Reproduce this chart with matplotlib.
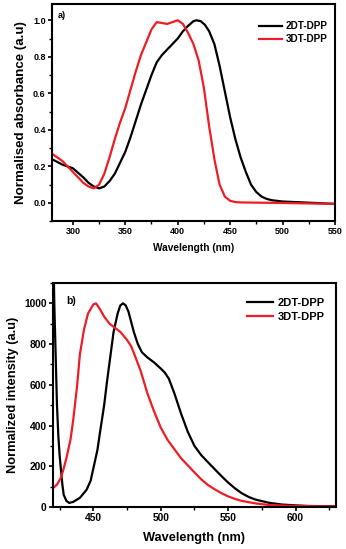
import matplotlib
matplotlib.use('Agg')
import matplotlib.pyplot as plt
from matplotlib.ticker import MultipleLocator

plt.rcParams['font.family'] = ['Liberation Sans', 'DejaVu Sans']
plt.rcParams['font.weight'] = 'bold'

# a) absorbance
abs_nm_2dt = [280, 285, 290, 295, 300, 305, 310, 315, 320, 325, 330, 335, 340, 345,
              350, 355, 360, 365, 370, 375, 380, 385, 390, 395, 400, 405, 410, 415,
              418, 422, 426, 430, 435, 440, 445, 450, 455, 460, 465, 470, 475, 480,
              485, 490, 500, 520, 550]
abs_2dt = [0.24, 0.225, 0.21, 0.20, 0.19, 0.165, 0.14, 0.11, 0.09, 0.08, 0.09, 0.12,
           0.16, 0.22, 0.28, 0.36, 0.45, 0.54, 0.62, 0.70, 0.77, 0.81, 0.84, 0.87,
           0.90, 0.94, 0.97, 0.995, 1.0, 0.995, 0.975, 0.94, 0.87, 0.75, 0.61, 0.47,
           0.35, 0.25, 0.17, 0.10, 0.06, 0.035, 0.022, 0.015, 0.008, 0.003, -0.005]
abs_nm_3dt = [280, 285, 290, 295, 300, 305, 310, 315, 320, 325, 330, 335, 340, 345,
              350, 355, 360, 365, 370, 375, 380, 385, 390, 395, 400, 405, 410, 415,
              420, 425, 430, 435, 440, 445, 450, 455, 460, 500, 550]
abs_3dt = [0.27, 0.25, 0.23, 0.20, 0.17, 0.14, 0.11, 0.09, 0.08, 0.10, 0.16, 0.25,
           0.35, 0.44, 0.52, 0.62, 0.72, 0.81, 0.88, 0.95, 0.99, 0.985, 0.98, 0.99,
           1.0, 0.98, 0.93, 0.87, 0.78, 0.63, 0.42, 0.24, 0.10, 0.035, 0.012, 0.005,
           0.003, 0.0, -0.005]

# b) emission
em_nm_2dt = [420, 421, 422, 423, 424, 425, 426, 427, 428, 430, 432, 435, 440, 445,
             448, 450, 453, 455, 458, 460, 463, 465, 468, 470, 472, 474, 476, 478,
             480, 483, 486, 490, 495, 500, 503, 506, 510, 515, 520, 525, 530, 535,
             540, 545, 550, 555, 560, 565, 570, 580, 590, 600, 610, 630]
em_2dt = [1400, 1000, 750, 500, 350, 250, 180, 110, 60, 30, 20, 25, 45, 85, 130, 190,
          280, 370, 500, 610, 760, 860, 950, 990, 1000, 990, 960, 910, 860, 800, 760,
          735, 710, 680, 660, 630, 560, 460, 370, 300, 255, 220, 186, 152, 120, 92,
          68, 50, 37, 21, 12, 8, 5, 3]
em_nm_3dt = [420, 423, 426, 428, 430, 433, 435, 438, 440, 443, 446, 450, 452, 455,
             458, 462, 466, 470, 475, 478, 481, 485, 490, 495, 500, 505, 510, 515,
             520, 525, 530, 535, 540, 545, 550, 555, 560, 570, 580, 600, 630]
em_3dt = [92, 110, 145, 190, 240, 330, 424, 600, 750, 870, 950, 995, 1000, 970, 935,
          900, 880, 860, 820, 790, 740, 670, 560, 470, 390, 330, 285, 240, 205, 170,
          136, 108, 87, 68, 52, 40, 30, 18, 10, 5, 2]

labels = ['2DT-DPP', '3DT-DPP']
colors = ['black', '#ee1c25']

fig = plt.figure(figsize=(3.46, 5.49), dpi=100)
ax1 = fig.add_axes([0.150, 0.597, 0.818, 0.396])
ax2 = fig.add_axes([0.153, 0.0765, 0.818, 0.408])

ax1.plot(abs_nm_2dt, abs_2dt, color=colors[0], lw=1.6, label=labels[0])
ax1.plot(abs_nm_3dt, abs_3dt, color=colors[1], lw=1.6, label=labels[1])
ax1.set_xlim(280, 550)
ax1.set_ylim(-0.1, 1.09)
ax1.xaxis.set_major_locator(MultipleLocator(50))
ax1.xaxis.set_minor_locator(MultipleLocator(25))
ax1.set_yticks([0.0, 0.2, 0.4, 0.6, 0.8, 1.0])
ax1.yaxis.set_minor_locator(MultipleLocator(0.1))
ax1.set_xlabel('Wavelength (nm)', fontsize=7.3, fontweight='bold', labelpad=5)
ax1.set_ylabel('Normalised absorbance (a.u)', fontsize=9.6, fontweight='bold',
               labelpad=4)
ax1.legend(loc='upper left', fontsize=7.2, frameon=False, handlelength=2.3,
           handletextpad=0.4, labelspacing=0.3, borderpad=0, borderaxespad=0,
           bbox_to_anchor=(259 / 346, 1 - 21 / 549),
           bbox_transform=fig.transFigure)

ax2.plot(em_nm_2dt, em_2dt, color=colors[0], lw=1.6, label=labels[0])
ax2.plot(em_nm_3dt, em_3dt, color=colors[1], lw=1.6, label=labels[1])
ax2.set_xlim(420, 630)
ax2.set_ylim(0, 1100)
ax2.xaxis.set_major_locator(MultipleLocator(50))
ax2.xaxis.set_minor_locator(MultipleLocator(25))
ax2.set_yticks([0, 200, 400, 600, 800, 1000])
ax2.yaxis.set_minor_locator(MultipleLocator(100))
ax2.set_xlabel('Wavelength (nm)', fontsize=9.2, fontweight='bold', labelpad=6)
ax2.set_ylabel('Normalized intensity (a.u)', fontsize=9.3, fontweight='bold',
               labelpad=4)
ax2.legend(loc='upper left', fontsize=8, frameon=False, handlelength=2.3,
           handletextpad=0.5, labelspacing=0.35, borderpad=0, borderaxespad=0,
           bbox_to_anchor=(247 / 346, 1 - 298 / 549),
           bbox_transform=fig.transFigure)

for ax in (ax1, ax2):
    for s in ax.spines.values():
        s.set_linewidth(1.5)
    ax.tick_params(which='major', direction='out', length=3, width=1.2,
                   labelsize=6.5, pad=1.5, top=False, right=False)
    ax.tick_params(which='minor', direction='out', length=2, width=1.0,
                   top=False, right=False)

ax2.tick_params(labelsize=7.4)
for ax in (ax1, ax2):
    for lab in ax.get_xticklabels() + ax.get_yticklabels():
        lab.set_fontweight('bold')

fig.text(58 / 346, 1 - 15 / 549, 'a)', fontsize=6.5, fontweight='bold',
         va='center', ha='left')
fig.text(66 / 346, 1 - 301 / 549, 'b)', fontsize=7.5, fontweight='bold',
         va='center', ha='left')

fig.savefig('out.png', dpi=100)
